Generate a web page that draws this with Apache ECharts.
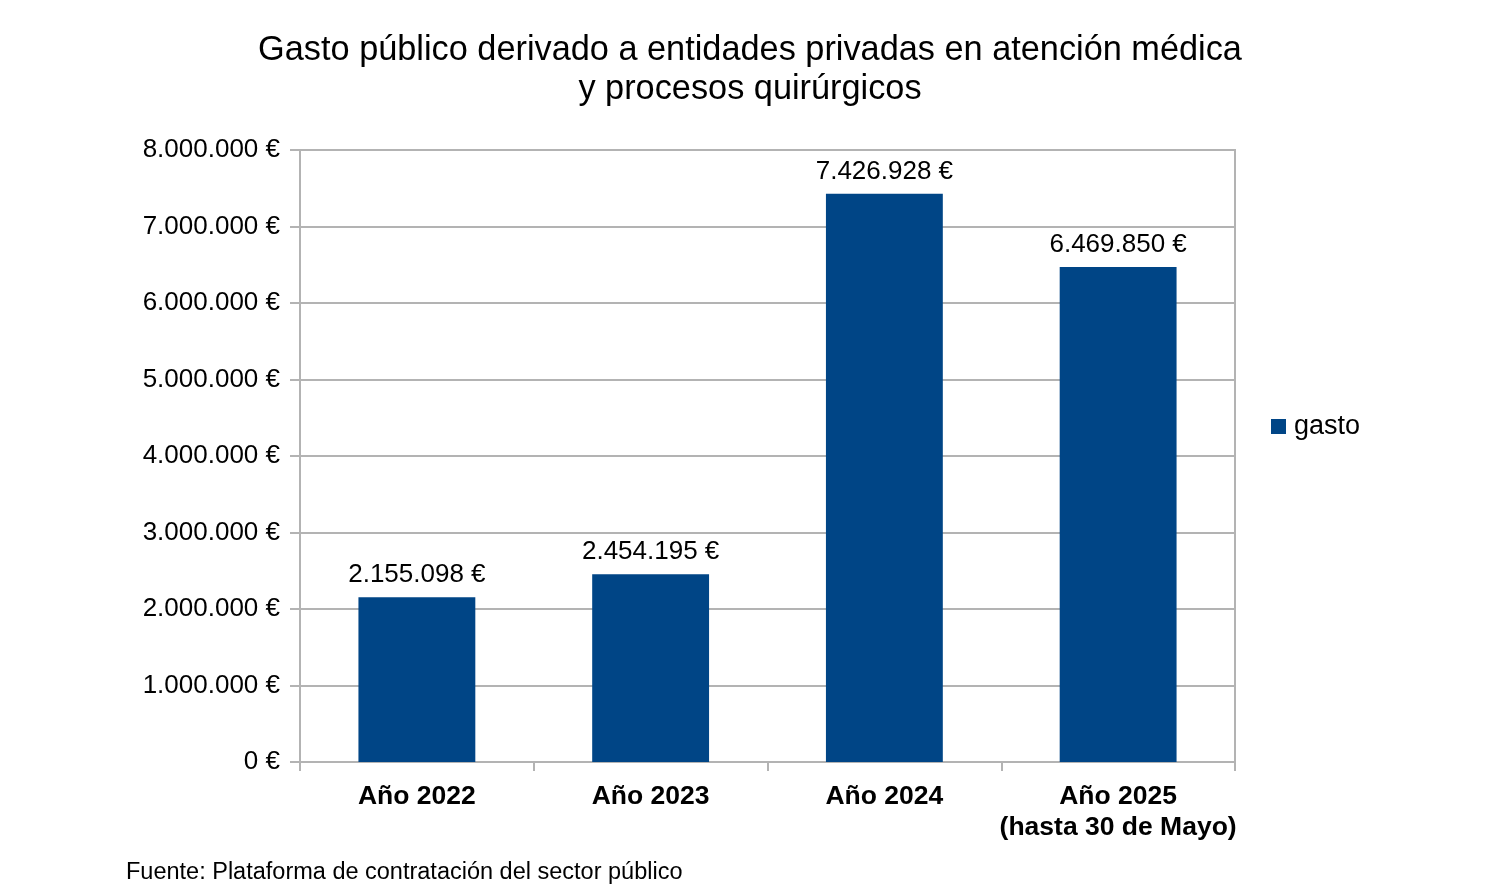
<!DOCTYPE html>
<html>
<head>
<meta charset="utf-8">
<script src="https://cdn.jsdelivr.net/npm/echarts@6/dist/echarts.min.js"></script>
<style>html,body{margin:0;padding:0;background:#fff}#c{width:1500px;height:895px}</style>
</head>
<body>
<div id="c"></div>
<script>
const categories = ['Año 2022', 'Año 2023', 'Año 2024', 'Año 2025\n(hasta 30 de Mayo)'];
const gasto = [2155098, 2454195, 7426928, 6469850];
const yTicks = [0, 1000000, 2000000, 3000000, 4000000, 5000000, 6000000, 7000000, 8000000];

function fmt(v) {
  return String(Math.round(v)).replace(/\B(?=(\d{3})+(?!\d))/g, '.') + ' €';
}

const chart = echarts.init(document.getElementById('c'));
chart.setOption({
  animation: false,
  textStyle: { fontFamily: 'Liberation Sans' },
  title: [{
    text: 'Gasto público derivado a entidades privadas en atención médica\ny procesos quirúrgicos',
    left: 750, top: 31, textAlign: 'center', padding: 0,
    textStyle: { fontSize: 34.3, fontWeight: 'normal', color: '#000', lineHeight: 39, fontFamily: 'Liberation Sans' }
  }, {
    text: 'Fuente: Plataforma de contratación del sector público',
    left: 126, top: 861, padding: 0,
    textStyle: { fontSize: 23.5, fontWeight: 'normal', color: '#000', fontFamily: 'Liberation Sans' }
  }],
  legend: {
    data: [{ name: 'gasto', icon: 'rect' }], left: 1271, top: 413, padding: 0, itemWidth: 15, itemHeight: 15, itemGap: 8,
    textStyle: { fontSize: 27, color: '#000', padding: [0, 0, 0, 3] }
  },
  grid: {
    left: 300, right: 265, top: 150, bottom: 133,
    show: true, borderColor: '#b3b3b3', borderWidth: 2
  },
  xAxis: {
    type: 'category', data: categories,
    axisLine: { lineStyle: { color: '#b3b3b3', width: 2 } },
    axisTick: { show: true, interval: 0, length: 9, lineStyle: { color: '#b3b3b3', width: 2 } },
    axisLabel: { interval: 0, fontSize: 26.5, fontWeight: 'bold', color: '#000', margin: 19, lineHeight: 31 }
  },
  yAxis: {
    type: 'value', min: 0, max: 8000000, interval: 1000000,
    axisLine: { show: true, lineStyle: { color: '#b3b3b3', width: 2 } },
    axisTick: { show: true, length: 10, lineStyle: { color: '#b3b3b3', width: 2 } },
    splitLine: { lineStyle: { color: '#b3b3b3', width: 2 } },
    axisLabel: { fontSize: 26, color: '#000', margin: 20, formatter: fmt }
  },
  series: [{
    name: 'gasto', type: 'bar', data: gasto, barWidth: '50%',
    itemStyle: { color: '#004586' },
    label: { show: true, position: 'top', distance: 9, fontSize: 26, color: '#000', formatter: p => fmt(p.value) }
  }]
});
</script>
</body>
</html>
